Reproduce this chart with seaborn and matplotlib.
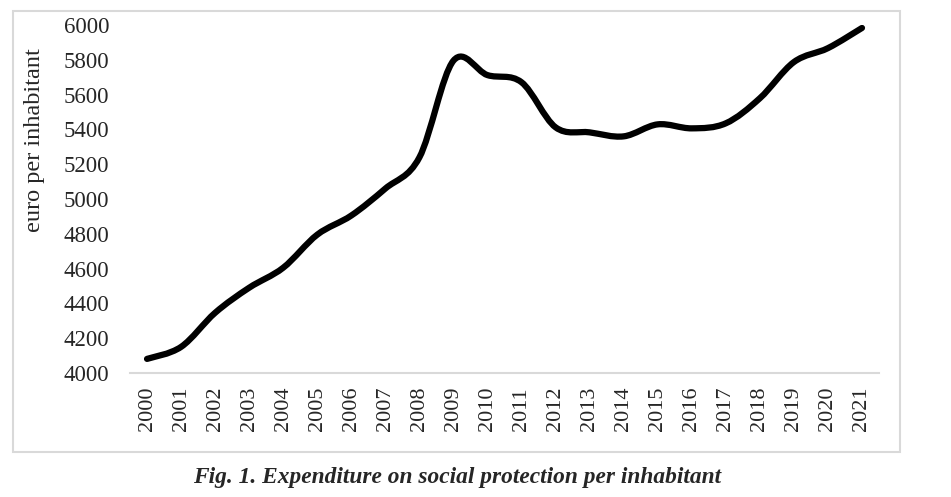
import seaborn as sns
import matplotlib.pyplot as plt
import pandas as pd
from matplotlib.patches import Rectangle, PathPatch
from matplotlib.path import Path

# values (euro per inhabitant)
years = [str(y) for y in range(2000, 2022)]
values = [4081, 4150, 4346, 4490, 4605, 4795, 4905, 5060, 5239, 5795, 5712,
          5671, 5412, 5383, 5360, 5429, 5406, 5435, 5579, 5787, 5867, 5983]
yticks = list(range(4000, 6001, 200))

df = pd.DataFrame({'year': years, 'value': values})

sns.set_style('white')
plt.rcParams['font.family'] = ['Liberation Serif', 'DejaVu Serif']

fig = plt.figure(figsize=(9.51, 4.97), dpi=100)
ax = fig.add_axes([0.1367, 0.2495, 0.7876, 0.7002])

# seaborn sets up the categorical axis; the visible line is the smoothed
# version below (like Excel's "smoothed line" option)
sns.lineplot(x='year', y='value', data=df, ax=ax, color='black',
             linewidth=0, sort=False)

# smoothed line: cubic bezier through the data points (catmull-rom handles)
pts = list(zip(range(len(values)), values))
verts = [pts[0]]
codes = [Path.MOVETO]
for i in range(len(pts) - 1):
    p0 = pts[max(i - 1, 0)]
    p1 = pts[i]
    p2 = pts[i + 1]
    p3 = pts[min(i + 2, len(pts) - 1)]
    c1 = (p1[0] + (p2[0] - p0[0]) / 6, p1[1] + (p2[1] - p0[1]) / 6)
    c2 = (p2[0] - (p3[0] - p1[0]) / 6, p2[1] - (p3[1] - p1[1]) / 6)
    verts += [c1, c2, p2]
    codes += [Path.CURVE4] * 3
ax.add_patch(PathPatch(Path(verts, codes), fill=False, edgecolor='black',
                       linewidth=4.5, capstyle='round', joinstyle='round'))

ax.set_xlim(-0.5, len(years) - 0.5)
ax.set_ylim(4000, 6000)
ax.set_yticks(yticks)
ax.set_yticklabels([str(t) for t in yticks], fontsize=16.5)
ax.set_xticks(range(len(years)))
ax.set_xticklabels(years, rotation=90, fontsize=16)
ax.tick_params(axis='y', length=0, pad=15)
ax.tick_params(axis='x', length=0, pad=10)
ax.set_xlabel('')
ax.set_ylabel('')

sns.despine(ax=ax, left=True)
ax.spines['bottom'].set_color('#d9d9d9')
ax.spines['bottom'].set_linewidth(1.5)

fig.text(35 / 951, 1 - 140 / 497, 'euro per inhabitant', rotation=90,
         ha='center', va='center', fontsize=17.5)

# light frame around the chart area
fig.patches.append(Rectangle((13 / 951, 1 - 452 / 497), 887 / 951, 441 / 497,
                             transform=fig.transFigure, fill=False,
                             edgecolor='#d9d9d9', linewidth=1.5))

fig.text(457 / 951, 1 - 478 / 497,
         'Fig. 1. Expenditure on social protection per inhabitant',
         ha='center', va='center', fontsize=16.8, fontweight='bold',
         fontstyle='italic')

fig.savefig('out.png', dpi=100)
